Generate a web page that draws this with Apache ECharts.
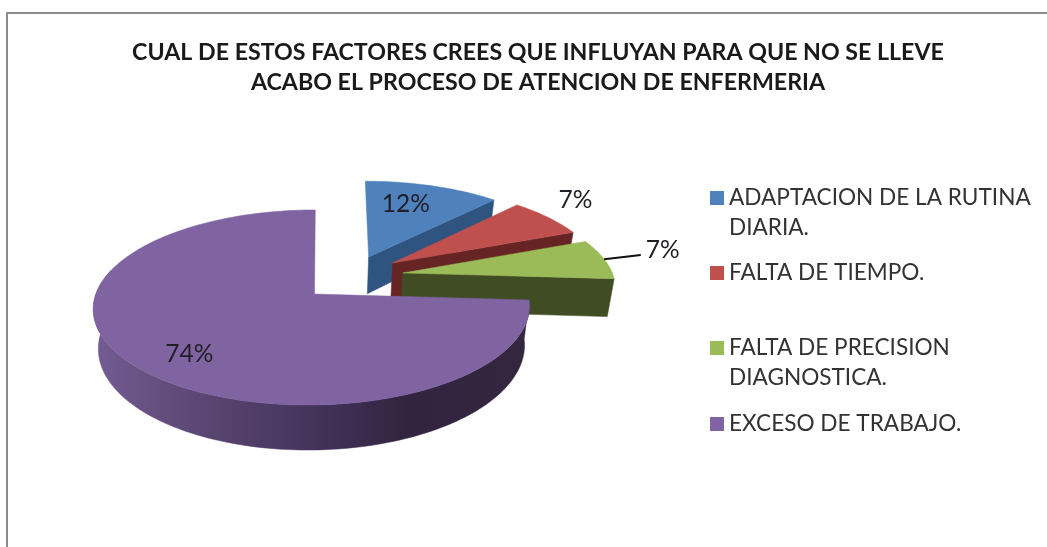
<!DOCTYPE html>
<html>
<head>
<meta charset="utf-8">
<style>html,body{margin:0;padding:0;background:#fff}#c{width:1047px;height:547px}</style>
<script src="https://cdn.jsdelivr.net/npm/echarts@6/dist/echarts.min.js"></script>
</head>
<body>
<div id="c"></div>
<script>
// ---- data ----
const titleLines = ['CUAL DE ESTOS FACTORES CREES QUE INFLUYAN PARA QUE NO SE LLEVE', 'ACABO EL PROCESO DE ATENCION DE ENFERMERIA'];
const categories = ['ADAPTACION DE LA RUTINA\nDIARIA.', 'FALTA DE TIEMPO.', 'FALTA DE PRECISION\nDIAGNOSTICA.', 'EXCESO DE TRABAJO.'];
const values = [12, 7, 7, 74];
const labels = ['12%', '7%', '7%', '74%'];

// ---- styling / projection ----
const topColors = ['#4F81BD', '#C0504D', '#9BBB59', '#8064A2'];
const wallColors = ['#2F5480', '#662524', '#404D24', '#3A2B4E'];
const explode = [[0.265, -0.408], [0.38, -0.339], [0.425, -0.2265], [-0.005, 0]];
const apexShift = [0, 0, 0, 0.012];
const labelPolar = [[0.70, 17.5], [1.283, 51.6], [1.322, 78.5], [0.771, 221.6]];
const legendLineCentres = [198, 273, 348, 424];
const P = { cx: 313, cy: 294, b: 216, skew: -3.7, a: 95.7, k: 0.138, depth: 38.8, baseScale: 0.977 };

const total = values.reduce((s, v) => s + v, 0);
function proj(u, v) {
  const d = 1 - P.k * v;
  return [P.cx + (P.b * u + P.skew * v) / d, P.cy + P.a * v / d];
}
function base(u, v) {
  const d = 1 - P.k * v, p = proj(u, v);
  return [P.cx + (p[0] - P.cx) * P.baseScale, p[1] + P.depth / d];
}
function rim(i, deg, r, fn) {
  const t = deg * Math.PI / 180, e = explode[i];
  return (fn || proj)(e[0] + r * Math.sin(t), e[1] - r * Math.cos(t));
}
function arc(i, a0, a1, fn) {
  const out = [], n = Math.max(2, Math.ceil(Math.abs(a1 - a0) / 1.5));
  for (let j = 0; j <= n; j++) out.push(rim(i, a0 + (a1 - a0) * j / n, 1, fn));
  return out;
}
function renderSlice(i) {
  return function (params, api) {
    const val = api.value(0);
    let before = 0;
    for (let j = 0; j < i; j++) before += values[j];
    const a0 = before / total * 360, a1 = a0 + val / total * 360;
    const e = explode[i];
    const apex = proj(e[0] + apexShift[i], e[1]), apexB = base(e[0] + apexShift[i], e[1]);
    const fillWall = wallColors[i];
    const kids = [];
    const wall = (pts, fill) => kids.push({ type: 'polygon', shape: { points: pts }, style: { fill: fill, stroke: fill, lineWidth: 0.5 }, silent: true });

    if (i < 3) {
      // small slices sit behind the viewer's line of sight: only the trailing cut face shows
      wall([apex, rim(i, a1, 1), rim(i, a1, 1, base), apexB], fillWall);
    } else {
      const wa1 = Math.min(a1, 285);
      const grad = new echarts.graphic.LinearGradient(0, 0, 1, 0, [
        { offset: 0, color: '#735C92' },
        { offset: 0.28, color: '#57446F' },
        { offset: 0.52, color: '#42325A' },
        { offset: 0.72, color: '#32243F' },
        { offset: 1, color: '#35263F' }
      ]);
      wall(arc(i, a0, wa1).concat(arc(i, a0, wa1, base).reverse()), grad);
    }
    wall([apex].concat(arc(i, a0, a1)), topColors[i]);

    const lp = rim(i, labelPolar[i][1], labelPolar[i][0]);
    if (i === 2) {
      const start = rim(i, (a0 + a1) / 2, 1);
      kids.push({ type: 'polyline', shape: { points: [start, [lp[0] - 22, lp[1] + 5]] }, style: { stroke: '#111', lineWidth: 2, fill: 'none' }, silent: true });
    }
    kids.push({
      type: 'text', silent: true,
      style: { x: lp[0], y: lp[1], text: labels[i], align: 'center', verticalAlign: 'middle', fill: '#1f1f26', font: '24.5px Lato' }
    });
    return { type: 'group', children: kids };
  };
}

const chart = echarts.init(document.getElementById('c'), null, { renderer: 'canvas' });
chart.setOption({
  animation: false,
  backgroundColor: '#ffffff',
  title: {
    text: titleLines.join('\n'),
    left: 533, top: 33, textAlign: 'center',
    textStyle: { fontFamily: 'Lato', fontWeight: 'bold', fontSize: 23.2, lineHeight: 30, color: '#1a1a1a' }
  },
  legend: categories.map((c, i) => {
    const two = c.indexOf('\n') >= 0;
    return {
      data: [c], orient: 'vertical', left: 710,
      top: legendLineCentres[i] - (two ? 45 : 15),
      padding: 0, itemWidth: 14, itemHeight: 14, icon: 'rect', selectedMode: false,
      formatter: n => (n.indexOf('\n') >= 0 ? '\n' + n : n),
      textStyle: { fontFamily: 'Lato', fontSize: 22.6, lineHeight: 30, color: '#333333' }
    };
  }),
  graphic: [{
    type: 'polyline', silent: true,
    shape: { points: [[7, 547], [7, 13], [1047, 13]] },
    style: { stroke: '#8c8c8c', lineWidth: 2, fill: 'none' }
  }],
  series: categories.map((c, i) => ({
    type: 'custom', name: c, coordinateSystem: 'none', clip: false,
    itemStyle: { color: topColors[i] }, z: 2 + i,
    data: [values[i]],
    renderItem: renderSlice(i)
  }))
});
</script>
</body>
</html>
